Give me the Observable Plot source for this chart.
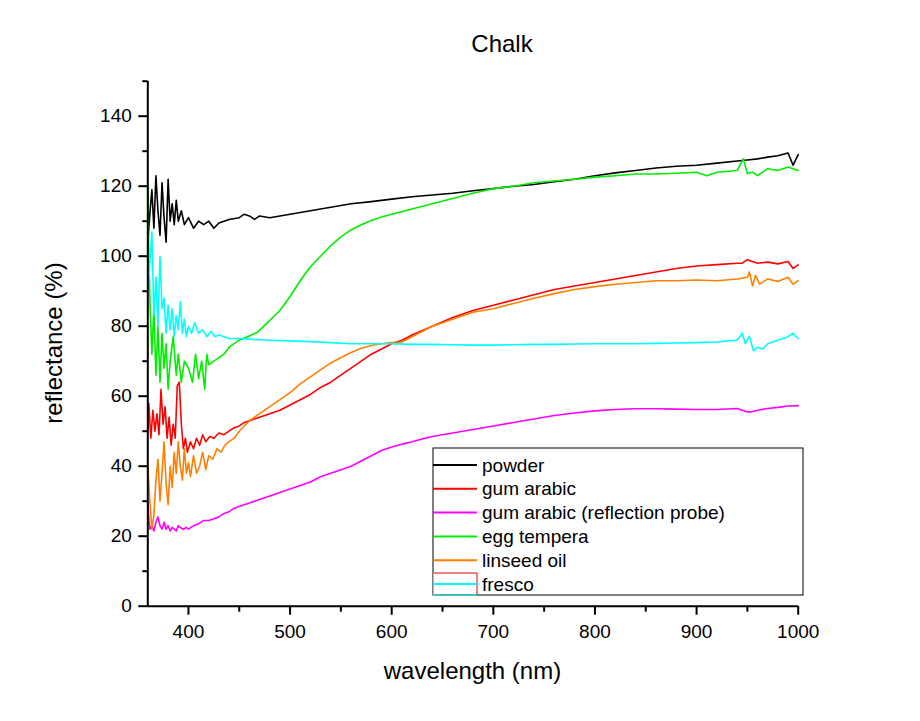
<!DOCTYPE html>
<html>
<head>
<meta charset="utf-8">
<script src="https://cdn.jsdelivr.net/npm/d3@7"></script>
<script src="https://cdn.jsdelivr.net/npm/@observablehq/plot@0.6"></script>
<style>
  body { margin: 0; background: #fff; font-family: "Liberation Sans", Arial, sans-serif; }
  #wrap { position: relative; width: 920px; }
  #title { position: relative; height: 60px; }
  #title span { position: absolute; left: 502px; top: 44px; transform: translate(-50%, -50%); font-size: 24px; color: #000; }
</style>
</head>
<body>
<div id="wrap">
  <div id="title"><span>Chalk</span></div>
  <div id="chart"></div>
</div>
<script>
// ---- data: [wavelength (nm), reflectance (%)] ----
const powder = [[360,104],[362,112],[364,119],[366,108],[368,123],[370,113],[372,106],[374,121],[376,111],[378,104],[380,122],[382,110],[384,115],[386,109],[388,116],[390,110],[393,113],[396,109],[400,111],[405,108],[410,110],[415,109],[420,110],[425,108],[430,109.5],[440,110.5],[450,111],[455,112],[460,111.5],[465,110.5],[470,111.5],[480,111],[490,111.5],[500,112],[510,112.5],[520,113],[540,114],[560,115],[580,115.6],[600,116.3],[620,117],[640,117.5],[660,118],[680,118.7],[700,119.3],[720,120],[740,120.5],[760,121.3],[780,122],[800,123],[820,123.8],[840,124.5],[860,125.2],[880,125.7],[900,126],[920,126.6],[940,127.2],[950,127.5],[960,127.8],[970,128.3],[980,128.7],[990,129.5],[995,126],[1000,129]];

const gumArabic = [[360,50],[361,58],[363,48],[365,56],[367,50],[369,55],[371,49],[373,62],[375,52],[377,57],[379,48],[381,54],[383,46],[385,52],[387,48],[389,63],[391,64],[393,52],[395,45],[397,48],[399,44],[402,47],[405,45],[408,48],[411,46],[414,49],[417,47],[421,48.5],[425,48],[430,49.5],[435,49],[440,50],[445,51],[450,51.5],[455,52.5],[460,53],[470,54],[480,55],[490,56],[500,57.5],[510,59],[520,60.5],[530,62.5],[540,64],[550,66],[560,68],[570,70],[580,72],[590,73.5],[600,75],[610,76],[620,77.5],[640,80],[660,82.5],[680,84.5],[700,86],[720,87.5],[740,89],[760,90.5],[780,91.5],[800,92.5],[820,93.5],[840,94.5],[860,95.5],[880,96.5],[900,97.2],[920,97.6],[940,98],[945,98],[950,99],[955,98.5],[960,98],[970,98.3],[980,97.8],[990,98.5],[995,96.5],[1000,97.5]];

const reflectionProbe = [[360,30],[361,25],[362,22],[364,23],[366,21.5],[368,24],[370,25.5],[372,23],[374,22],[376,24],[378,22],[380,23],[382,21.5],[384,22.5],[386,22],[388,21.5],[390,23],[392,22.5],[395,22],[398,22.5],[400,22],[405,23],[410,23.5],[415,24.5],[420,24.5],[425,25],[430,25.5],[435,26.5],[440,27],[445,28],[450,28.5],[460,29.5],[470,30.5],[480,31.5],[490,32.5],[500,33.5],[510,34.5],[520,35.5],[530,37],[540,38],[550,39],[560,40],[570,41.5],[580,43],[590,44.5],[600,45.5],[610,46.3],[620,47],[630,47.8],[640,48.5],[660,49.5],[680,50.5],[700,51.5],[720,52.5],[740,53.5],[760,54.5],[780,55.2],[800,55.8],[820,56.2],[840,56.4],[860,56.4],[880,56.3],[900,56.2],[920,56.2],[940,56.5],[945,56],[950,55.5],[955,55.6],[960,56],[970,56.5],[980,56.8],[990,57.2],[1000,57.3]];

const eggTempera = [[360,121],[361,100],[362,88],[364,72],[366,85],[368,66],[370,80],[372,64],[374,78],[376,68],[378,75],[380,62],[382,70],[385,77],[388,66],[390,72],[393,64],[396,70],[400,68],[404,64],[407,72],[410,65],[413,70],[416,62],[418,72],[420,69],[425,70],[430,71],[435,72],[440,74],[445,75],[450,76],[458,77],[468,78.3],[477,80.8],[490,84.5],[500,88.5],[510,93],[520,97],[530,100],[540,103],[550,105.5],[560,107.5],[570,109],[580,110.2],[590,111.2],[600,112],[620,113.5],[640,115],[660,116.5],[680,118],[700,119.3],[720,120],[740,121],[760,121.5],[780,122],[800,122.6],[820,123],[840,123.5],[860,123.5],[880,123.7],[900,124],[910,123],[920,124],[940,124.5],[946,127.8],[950,123.6],[955,124],[960,123],[970,125],[980,124.5],[990,125.5],[1000,124.5]];

const linseedOil = [[360,40],[362,30],[364,22],[366,26],[368,36],[370,42],[372,30],[374,38],[376,47],[378,35],[380,29],[382,40],[384,34],[386,44],[388,38],[390,47],[392,40],[394,36],[396,45],[398,38],[400,41],[402,37],[405,43],[408,38],[411,40],[414,44],[417,39],[420,43],[424,42],[428,45],[432,44],[436,46],[440,47],[445,48],[450,50],[455,51.5],[460,53],[470,55],[480,57],[490,59],[500,61],[510,63.5],[520,65.5],[530,67.5],[540,69.5],[550,71],[560,72.5],[570,73.7],[580,74.5],[590,75],[600,75.3],[610,75.5],[620,77],[630,78.5],[640,80],[650,81],[660,82],[670,83],[680,84],[690,84.5],[700,85],[720,86.5],[740,88],[760,89.3],[780,90.5],[800,91.3],[820,92],[840,92.5],[860,93],[880,93],[900,93.2],[920,93],[940,93.5],[950,94],[952,95.5],[955,91.5],[958,94.5],[962,92],[970,93.5],[980,92.8],[990,94],[995,92],[1000,93]];

const fresco = [[360,90],[362,98],[364,107],[366,83],[368,94],[370,80],[372,100],[374,85],[376,88],[378,78],[380,86],[382,79],[384,85],[386,77],[388,83],[390,79],[392,87],[394,78],[396,82],[398,77],[400,80],[403,78],[406,81],[410,78],[414,79],[418,77],[422,78.5],[426,77],[430,77.5],[440,76.5],[450,76.5],[460,76.3],[480,76],[500,75.8],[520,75.6],[540,75.3],[560,75],[580,75],[600,75],[620,74.8],[640,74.8],[660,74.7],[680,74.6],[700,74.6],[720,74.7],[740,74.8],[760,74.8],[780,74.9],[800,75],[820,75],[840,75],[860,75.1],[880,75.2],[900,75.3],[920,75.5],[930,75.8],[940,76],[945,78],[948,75],[952,77],[956,73],[960,74],[965,73.5],[970,75],[980,76],[990,77],[995,78],[1000,76.5]];

const seriesNames = ["powder", "gum arabic", "gum arabic (reflection probe)", "egg tempera", "linseed oil", "fresco"];
const seriesColors = ["#000000", "#ff0000", "#ff00ff", "#00ee00", "#ff8000", "#00ffff"];
const seriesData = [powder, gumArabic, reflectionProbe, eggTempera, linseedOil, fresco];

const xMajorTicks = [400, 500, 600, 700, 800, 900, 1000];
const xMinorTicks = [450, 550, 650, 750, 850, 950];
const yMajorTicks = [0, 20, 40, 60, 80, 100, 120, 140];
const yMinorTicks = [10, 30, 50, 70, 90, 110, 130, 150];

// ---- build table ----
const rows = seriesData.flatMap((arr, i) => arr.map(([w, r]) => ({series: seriesNames[i], w, r})));

const W = 920, H = 661;
const chart = Plot.plot({
  width: W,
  height: H,
  marginLeft: 147.3,
  marginRight: 122.3,
  marginTop: 20.7,
  marginBottom: 115.3,
  style: {fontFamily: '"Liberation Sans", Arial, sans-serif', fontSize: "19px", background: "#fff", color: "#000", overflow: "visible"},
  x: {domain: [360, 1000]},
  y: {domain: [0, 150]},
  color: {domain: seriesNames, range: seriesColors},
  marks: [
    Plot.line(rows, {x: "w", y: "r", z: "series", stroke: "series", strokeWidth: 1.6}),
    Plot.axisX(xMajorTicks, {tickSize: 9, tickPadding: 9, strokeWidth: 2, label: null, fontSize: 19, tickFormat: d => String(d)}),
    Plot.axisX(xMinorTicks, {tickSize: 6, strokeWidth: 2, text: null, label: null}),
    Plot.axisY(yMajorTicks, {tickSize: 9, tickPadding: 7, strokeWidth: 2, label: null, fontSize: 19, tickFormat: d => String(d)}),
    Plot.axisY(yMinorTicks, {tickSize: 5, strokeWidth: 2, text: null, label: null}),
    Plot.ruleX([360], {strokeWidth: 2}),
    Plot.ruleY([0], {strokeWidth: 2})
  ]
});

const svg = d3.select(chart);

// axis titles
svg.append("text")
  .attr("transform", "translate(54,283) rotate(-90)")
  .attr("text-anchor", "middle").attr("dy", "0.35em")
  .attr("font-size", 24).attr("fill", "#000")
  .text("reflectance (%)");
svg.append("text")
  .attr("x", 472.5).attr("y", 611)
  .attr("text-anchor", "middle").attr("dy", "0.35em")
  .attr("font-size", 24).attr("fill", "#000")
  .text("wavelength (nm)");

// legend
const lg = svg.append("g").attr("transform", "translate(433,388)");
lg.append("rect").attr("x", 0).attr("y", 0).attr("width", 370).attr("height", 147)
  .attr("fill", "#fff").attr("stroke", "#000").attr("stroke-width", 1);
seriesNames.forEach((name, i) => {
  const cy = 17 + i * 23.8;
  if (i === 5) {
    lg.append("path").attr("d", `M0.5,${cy - 11}H44V${cy + 11}`).attr("fill", "none")
      .attr("stroke", "#e00000").attr("stroke-width", 1);
    lg.append("path").attr("d", `M0.5,${cy - 11}V${cy + 11}H44`).attr("fill", "none")
      .attr("stroke", seriesColors[i]).attr("stroke-width", 1);
  }
  lg.append("line").attr("x1", 0).attr("x2", 44).attr("y1", cy).attr("y2", cy)
    .attr("stroke", seriesColors[i]).attr("stroke-width", 2);
  lg.append("text").attr("x", 49).attr("y", cy).attr("dy", "0.35em")
    .attr("text-anchor", "start")
    .attr("font-size", 19).attr("fill", "#000").text(name);
});

document.getElementById("chart").appendChild(chart);
</script>
</body>
</html>
